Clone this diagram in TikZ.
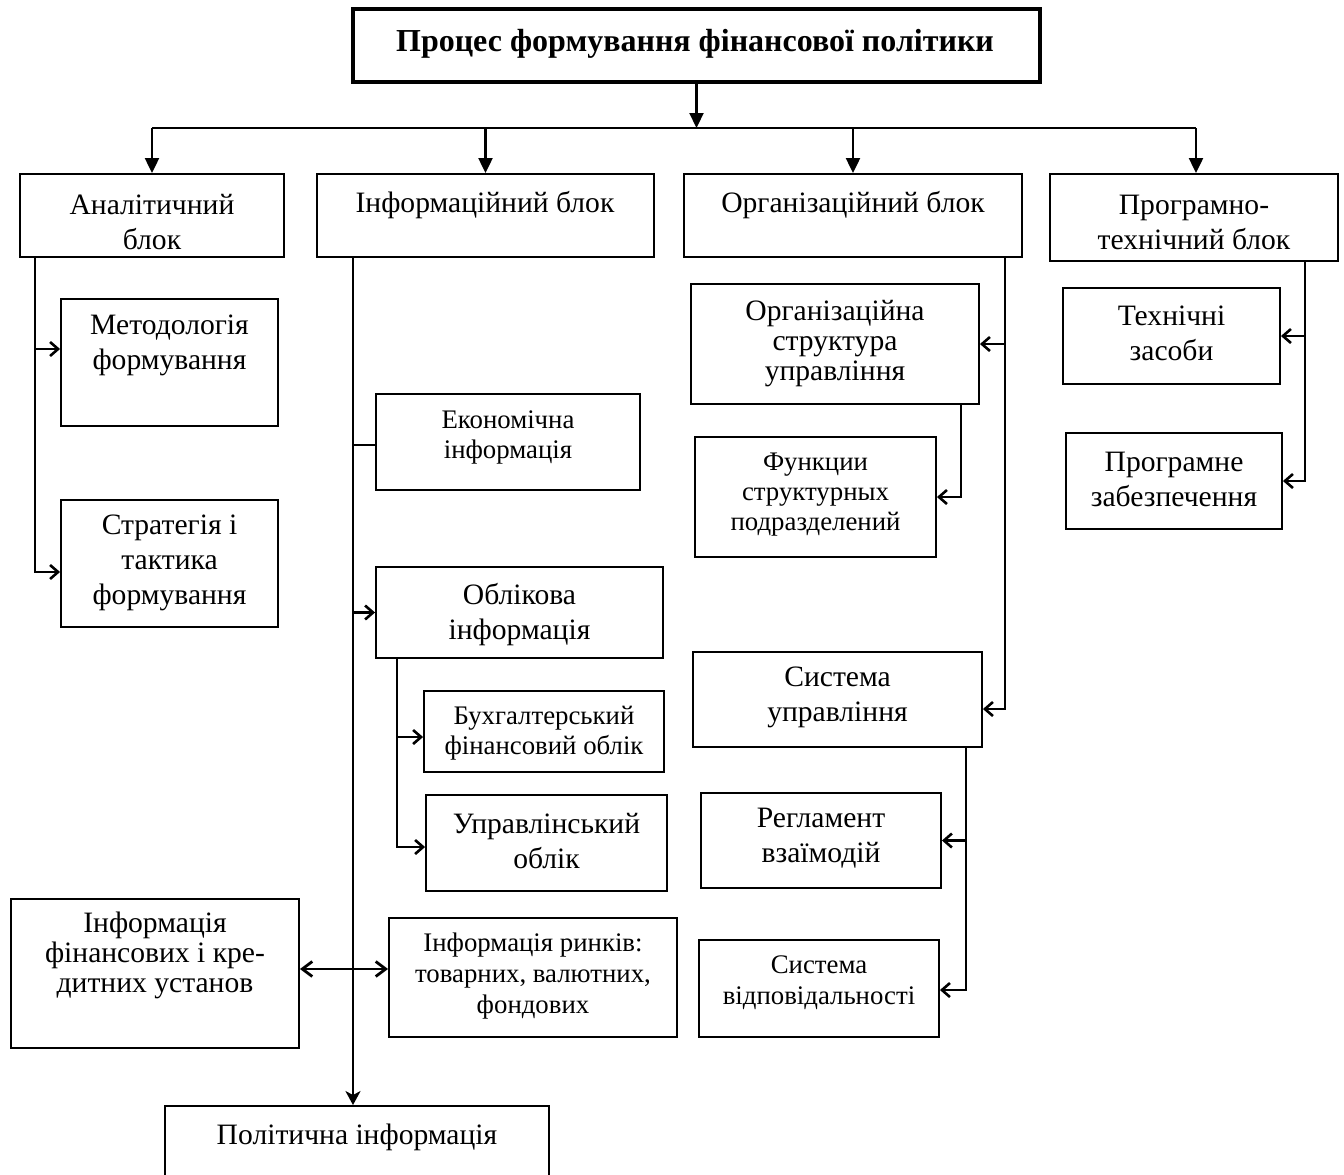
\documentclass[tikz,border=0pt]{standalone}
\usepackage{fontspec}
\setmainfont{Liberation Serif}
\usetikzlibrary{fit,arrows.meta}
\begin{document}
\begin{tikzpicture}[x=0.5pt,y=-0.5pt,
  box/.style={draw, line width=0.95pt, inner sep=0pt},
  titlebox/.style={draw, line width=1.6pt, inner sep=0pt},
  txt/.style={align=center, inner sep=0pt, font=\fontsize{14.8}{17.5}\selectfont},
  txtc/.style={align=center, inner sep=0pt, font=\fontsize{14.8}{15}\selectfont},
  txts/.style={align=center, inner sep=0pt, font=\fontsize{13.4}{15}\selectfont},
  txtsl/.style={align=center, inner sep=0pt, font=\fontsize{13.4}{15.7}\selectfont},
  ttl/.style={align=center, inner sep=0pt, font=\bfseries\fontsize{16}{19}\selectfont},
  conn/.style={line width=1.1pt},
  mainarr/.style={line width=1.1pt, -{Triangle[length=7.5pt,width=7pt]}},
  side/.style={line width=1.1pt, -{Straight Barb[length=4pt,width=7pt,line width=1.3pt]}},
  dbl/.style={line width=1.3pt, {Straight Barb[length=5pt,width=7.5pt,line width=1.4pt]}-{Straight Barb[length=5pt,width=7.5pt,line width=1.4pt]}},
  polarr/.style={line width=1.2pt, -{Stealth[length=7pt,width=7.5pt,inset=2pt]}}
]
\clip (0,0) rectangle (1344,1174);
\fill[white] (0,0) rectangle (1344,1174);

% ---------- boxes ----------
\node[titlebox, fit={(353,9) (1040,82)}] (title) {};
\node[box, fit={(20,174) (284,257)}] (anal) {};
\node[box, fit={(317,174) (654,257)}] (info) {};
\node[box, fit={(684,174) (1022,257)}] (org) {};
\node[box, fit={(1050,174) (1338,261)}] (prog) {};

\node[box, fit={(61,299) (278,426)}] (metod) {};
\node[box, fit={(61,500) (278,627)}] (strat) {};

\node[box, fit={(376,394) (640,490)}] (econ) {};
\node[box, fit={(376,567) (663,658)}] (oblik) {};
\node[box, fit={(424,691) (664,772)}] (buh) {};
\node[box, fit={(426,795) (667,891)}] (upr) {};
\node[box, fit={(389,918) (677,1037)}] (rynk) {};
\node[box, fit={(11,899) (299,1048)}] (finst) {};
\node[box, fit={(165,1106) (549,1230)}] (polit) {};

\node[box, fit={(691,284) (979,404)}] (orgstr) {};
\node[box, fit={(695,437) (936,557)}] (func) {};
\node[box, fit={(693,652) (982,747)}] (sysupr) {};
\node[box, fit={(701,793) (941,888)}] (regl) {};
\node[box, fit={(699,940) (939,1037)}] (sysvid) {};

\node[box, fit={(1063,288) (1280,384)}] (tech) {};
\node[box, fit={(1066,433) (1282,529)}] (progr) {};

% ---------- texts ----------
\node[ttl] (title-t) at (695,44) {Процес формування фінансової політики};
\node[txt] (anal-t) at (152,222) {Аналітичний\\блок};
\node[txt] (info-t) at (485,205) {Інформаційний блок};
\node[txt] (org-t) at (853,205) {Організаційний блок};
\node[txt] (prog-t) at (1194,222) {Програмно-\\технічний блок};

\node[txt] (metod-t) at (169.5,345.5) {Методологія\\формування};
\node[txt] (strat-t) at (169.5,563) {Стратегія і\\тактика\\формування};

\node[txts] (econ-t) at (508,437.5) {Економічна\\інформація};
\node[txt] (oblik-t) at (519.5,614.5) {Облікова\\інформація};
\node[txts] (buh-t) at (544,733) {Бухгалтерський\\фінансовий облік};
\node[txt] (upr-t) at (546.5,840.5) {Управлінський\\облік};
\node[txtsl] (rynk-t) at (533,976) {Інформація ринків:\\товарних, валютних,\\фондових};
\node[txtc] (finst-t) at (155,955) {Інформація\\фінансових і кре-\\дитних установ};
\node[txt] (polit-t) at (357,1137) {Політична інформація};

\node[txtc] (orgstr-t) at (835,344) {Організаційна\\структура\\управління};
\node[txts] (func-t) at (815.5,495) {Функции\\структурных\\подразделений};
\node[txt] (sysupr-t) at (837.5,697.5) {Система\\управління};
\node[txt] (regl-t) at (821,838.5) {Регламент\\взаїмодій};
\node[txtsl] (sysvid-t) at (819,982.5) {Система\\відповідальності};

\node[txt] (tech-t) at (1171.5,333.5) {Технічні\\засоби};
\node[txt] (progr-t) at (1174,479.5) {Програмне\\забезпечення};

% ---------- top connectors ----------
\coordinate (hl) at (152,128);
\coordinate (hr) at (1196,128);
\draw[conn] (hl) -- (hr);
\draw[mainarr] (title.south) -- (title.south |- hl);
\draw[mainarr] (anal.north |- hl) -- (anal.north);
\draw[mainarr] (info.north |- hl) -- (info.north);
\draw[mainarr] (org.north |- hl) -- (org.north);
\draw[mainarr] (hr) -- (hr |- prog.north);

% ---------- analytical column ----------
\coordinate (ls) at (35,257);
\draw[side] (ls) |- ([yshift=6.75pt]metod.west);
\draw[side] (ls) |- ([yshift=-4.25pt]strat.west);

% ---------- information column ----------
\coordinate (is) at (353,257);
\draw[polarr] (is) -- (is |- polit.north);
\draw[conn] (is) |- ([yshift=-1.5pt]econ.west);
\draw[side] (is) |- (oblik.west);
\coordinate (obs) at (397,658);
\draw[side] (obs) |- ([yshift=-2.75pt]buh.west);
\draw[side] (obs) |- ([yshift=-2pt]upr.west);
\draw[dbl] ([yshift=2.25pt]finst.east) -- ([yshift=4.25pt]rynk.west);

% ---------- organisational column ----------
\coordinate (os) at (1005,257);
\draw[side] (os) |- (orgstr.east);
\draw[side] (os) |- ([yshift=-4.75pt]sysupr.east);
\coordinate (os2) at (961,404);
\draw[side] (os2) |- (func.east);
\coordinate (ss) at (966,747);
\draw[side] (ss) |- (regl.east);
\draw[side] (ss) |- ([yshift=-0.75pt]sysvid.east);

% ---------- program-technical column ----------
\coordinate (ps) at (1305,261);
\draw[side] (ps) |- (tech.east);
\draw[side] (ps) |- (progr.east);
\end{tikzpicture}
\end{document}
